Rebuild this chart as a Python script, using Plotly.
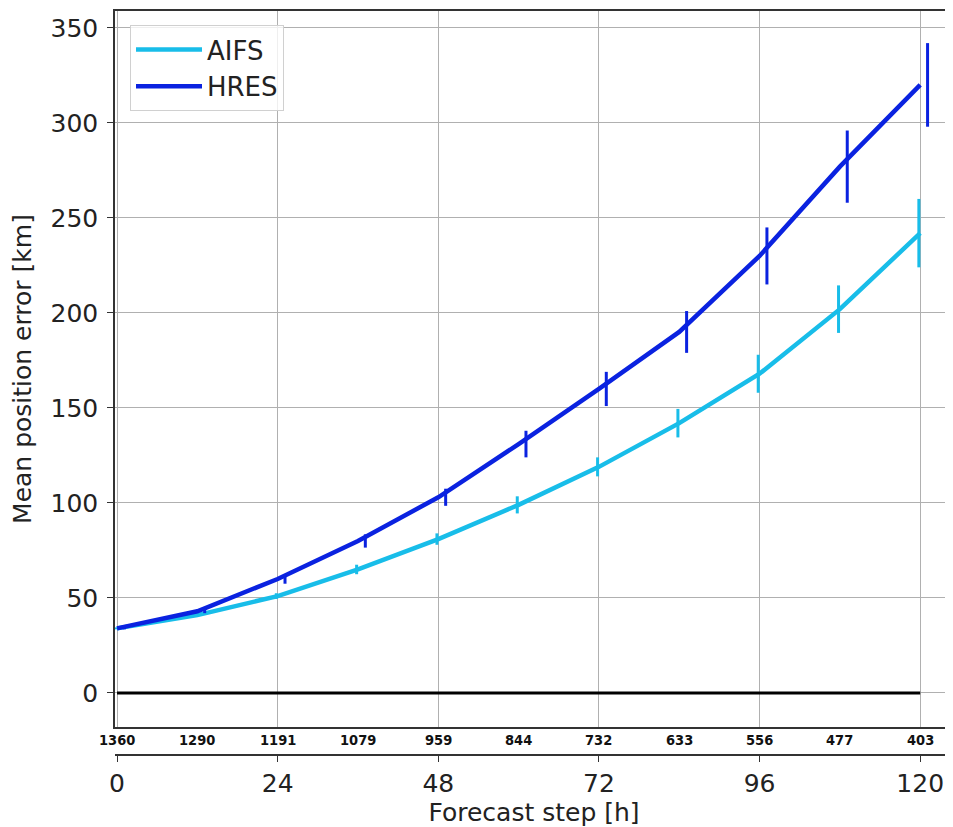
import plotly.graph_objects as go

steps = [0, 12, 24, 36, 48, 60, 72, 84, 96, 108, 120]
counts = [1360, 1290, 1191, 1079, 959, 844, 732, 633, 556, 477, 403]
aifs = [34, 41, 51, 65, 81, 99, 119, 142, 168, 202, 242]
hres = [34, 43, 60, 80, 103, 131, 160, 190, 230, 277, 320]
aifs_err = [0.5, 1, 1.5, 2.5, 3, 4.5, 5, 7.5, 10, 12.5, 18]
hres_err = [0.5, 1, 2.5, 3.5, 4.5, 7, 9, 11, 15, 19, 22]
xticks = [0, 24, 48, 72, 96, 120]

AIFS_C = "#18bde9"
HRES_C = "#0a22e0"
FONT = "DejaVu Sans"
FS = 25

# page has an 8px body margin: figure occupies 8..953 x 8..827
W, H = 945, 819
mt, mb, ml, mr = 3, 72, 107, 0
paper_h = H - mt - mb
plot_bottom_px = 719
ydom0 = (H - mb - plot_bottom_px) / paper_h

fig = go.Figure()

# zero line
fig.add_trace(go.Scatter(x=[steps[0], steps[-1]], y=[0, 0], mode="lines",
                         line=dict(color="black", width=3), showlegend=False, hoverinfo="skip"))

fig.add_trace(go.Scatter(x=steps, y=aifs, mode="lines", name="AIFS",
                         line=dict(color=AIFS_C, width=4.5)))
fig.add_trace(go.Scatter(x=[s - 0.2 for s in steps], y=aifs, mode="markers", showlegend=False,
                         marker=dict(size=1, color=AIFS_C, opacity=0),
                         error_y=dict(type="data", array=aifs_err, color=AIFS_C, thickness=3, width=0)))
fig.add_trace(go.Scatter(x=steps, y=hres, mode="lines", name="HRES",
                         line=dict(color=HRES_C, width=4.5)))
fig.add_trace(go.Scatter(x=[s + 1.1 for s in steps], y=hres, mode="markers", showlegend=False,
                         marker=dict(size=1, color=HRES_C, opacity=0),
                         error_y=dict(type="data", array=hres_err, color=HRES_C, thickness=3, width=0)))

# dummy trace for second x axis
fig.add_trace(go.Scatter(x=[steps[0]], y=[None], xaxis="x2", showlegend=False, hoverinfo="skip"))

xr = [-0.3, 124.9]
fig.update_layout(
    width=W, height=H,
    margin=dict(l=ml, r=mr, t=mt, b=mb, autoexpand=False),
    plot_bgcolor="white", paper_bgcolor="white",
    font=dict(family=FONT, size=FS, color="#222222"),
    xaxis=dict(range=xr, domain=[0, 1], tickvals=xticks, showticklabels=False, ticks="",
               showgrid=True, gridcolor="#b0b0b0", gridwidth=1, zeroline=False, automargin=False,
               showline=True, linecolor="#333333", linewidth=1.5, mirror=True),
    xaxis2=dict(range=xr, overlaying="x", anchor="free", position=0, side="bottom",
                tickvals=xticks, ticktext=[str(t) for t in xticks], ticks="outside", ticklen=6,
                tickcolor="#333333", showgrid=False, zeroline=False, automargin=False,
                showline=True, linecolor="#333333", linewidth=1.5,
                tickfont=dict(family=FONT, size=FS, color="#222222"),
                title=dict(text="Forecast step [h]", standoff=0,
                           font=dict(family=FONT, size=FS, color="#222222"))),
    yaxis=dict(range=[-17.9, 358.9], domain=[ydom0, 1], tickvals=[0, 50, 100, 150, 200, 250, 300, 350],
               ticks="outside", ticklen=6, tickcolor="#333333", automargin=False,
               ticklabelstandoff=4,
               showgrid=True, gridcolor="#b0b0b0", gridwidth=1, zeroline=False,
               showline=True, linecolor="#333333", linewidth=1.5, mirror=True,
               tickfont=dict(family=FONT, size=FS, color="#222222"),
               title=dict(text="Mean position error [km]", standoff=12,
                          font=dict(family=FONT, size=FS, color="#222222"))),
    legend=dict(x=(130 - 8 - ml) / (W - ml - mr), y=(H - mb - 17) / paper_h, xanchor="left", yanchor="top",
                bgcolor="rgba(255,255,255,0.8)", bordercolor="#d0d0d0", borderwidth=1,
                font=dict(family=FONT, size=26, color="#222222"), itemwidth=66,
                tracegroupgap=6),
    showlegend=True,
)

for s, c in zip(steps, counts):
    fig.add_annotation(x=s, xref="x", y=(H - mb - 732) / paper_h, yref="paper",
                       text="<b>%d</b>" % c, showarrow=False, xanchor="center", yanchor="middle",
                       font=dict(family="DejaVu Sans Condensed, DejaVu Sans", size=14.5, color="#111111"))

fig.write_html("out.html")
